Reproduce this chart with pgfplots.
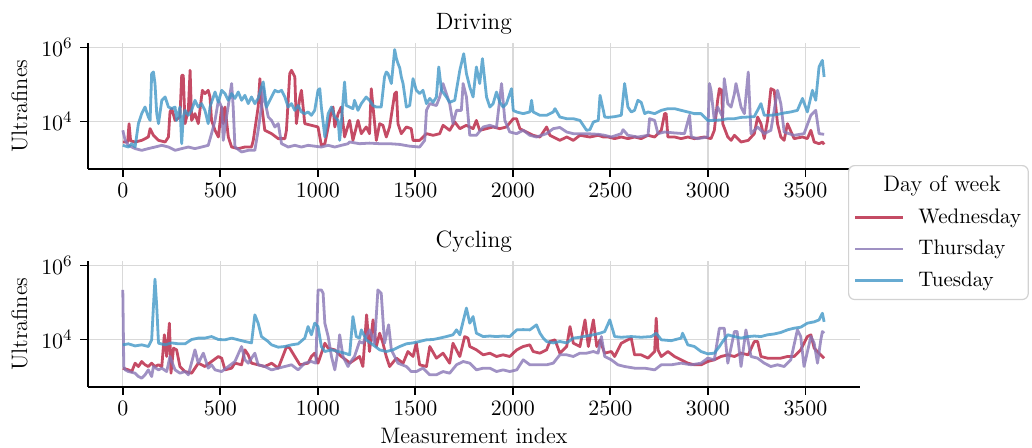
\documentclass[border=0pt]{standalone}
\usepackage{pgfplots}
\pgfplotsset{compat=1.18}

\definecolor{wed}{RGB}{182,30,62}
\definecolor{thu}{RGB}{136,118,181}
\definecolor{tue}{RGB}{65,151,199}

\pgfplotsset{
  every axis plot/.append style={line width=1.4pt, opacity=0.8, line join=round},
  every axis title/.style={at={(axis description cs:0.5,1)}, anchor=base, yshift=6.8pt, font=\fontsize{11.8}{14}\selectfont},
  every axis y label/.style={at={(axis description cs:-0.0883,0.5)}, rotate=90, anchor=center, font=\fontsize{11.2}{13}\selectfont},
  every axis x label/.style={at={(axis description cs:0.5,0)}, anchor=base, yshift=-28.5pt, font=\fontsize{11.2}{13}\selectfont},
}

\begin{document}
\begin{tikzpicture}
\useasboundingbox (0,0) rectangle (516pt,224pt);

% Driving
\begin{axis}[
  at={(43.85pt,139.5pt)}, anchor=south west,
  scale only axis, width=386.15pt, height=62.85pt,
  xmin=-180, xmax=3780, ymode=log, ymin=520, ymax=1.3e6,
  axis x line=bottom, axis y line=left,
  axis line style={-, line width=1pt},
  xtick={0,500,...,3500}, ytick={1e4,1e6},
  yminorticks=false,
  tick align=outside, major tick length=3.8pt,
  tick style={black, line width=0.9pt},
  grid=major, grid style={gray!30, line width=0.65pt},
  tick label style={font=\fontsize{11.3}{13}\selectfont},
  xticklabel style={/pgf/number format/1000 sep={}, inner sep=2pt, yshift=-1pt},
  yticklabel style={inner sep=2pt, xshift=-1.5pt},
  scaled x ticks=false,
  ylabel={Ultrafines},
  title={Driving},
]
\addplot[wed] coordinates {
(0,2790) (12,2790) (25,2800) (32,8700) (40,3000) (63,2790) (97,3090) (131,3810) (140,6400) (157,4230)
(183,3090) (217,2790) (234,3810) (242,18100) (251,22200) (268,10700) (293,13200) (302,177000) (310,177000)
(319,8740) (336,20000) (345,242000) (353,10700) (370,16300) (387,8740) (408,69700) (421,56700) (438,69700)
(447,46000) (455,10700) (473,5770) (490,3810) (507,24600) (515,8740) (524,24600) (541,3810) (558,2040)
(592,1850) (626,2040) (660,2040) (669,3090) (694,24600) (703,144000) (711,30400) (728,5770) (763,4690)
(797,3440) (831,3440) (839,5770) (856,197000) (865,242000) (882,160000) (890,8740) (908,46000) (916,69700)
(933,8740) (967,7880) (1001,7100) (1018,2270) (1036,2510) (1070,20000) (1078,24600) (1087,7100) (1104,16300)
(1120,24600) (1137,3810) (1163,10700) (1180,3090) (1206,10700) (1223,4690) (1248,7100) (1265,4690) (1274,77100)
(1283,24600) (1300,3090) (1317,8740) (1334,7880) (1351,3810) (1368,7100) (1394,56700) (1403,62700) (1411,8740)
(1428,4690) (1454,7100) (1479,6400) (1488,3090) (1522,3090) (1557,4690) (1591,4230) (1625,4690) (1642,7880)
(1676,5770) (1702,9700) (1728,6400) (1762,7880) (1796,6400) (1813,10700) (1830,5770) (1865,6400) (1899,7100)
(1933,6400) (1967,7100) (2002,11900) (2019,11900) (2036,6400) (2070,5200) (2104,4230) (2139,3810) (2173,7100)
(2190,4230) (2241,3090) (2276,3810) (2310,3090) (2344,4230) (2395,3810) (2438,4230) (2464,3810) (2488,3810)
(2522,3440) (2556,3810) (2590,3440) (2624,3810) (2658,3440) (2693,4230) (2727,3810) (2761,5770) (2778,16300)
(2786,16300) (2795,3810) (2829,3810) (2863,3440) (2897,3810) (2931,3440) (2982,3810) (3016,3440) (3033,5770)
(3050,37400) (3059,77100) (3071,69700) (3076,8740) (3102,3810) (3119,3090) (3136,4230) (3170,2790) (3207,3090)
(3238,4690) (3255,13200) (3272,8740) (3289,3440) (3306,10700) (3323,77100) (3340,69700) (3357,8740) (3374,3810)
(3391,3090) (3408,8740) (3442,3440) (3485,3810) (3510,3440) (3528,5770) (3545,2790) (3570,2510) (3587,2790) (3596,2400)
};
\addplot[thu] coordinates {
(0,5770) (12,3090) (29,2270) (63,1850) (97,1660) (131,1850) (165,2040) (200,2270) (234,2040) (268,1660)
(302,1850) (336,2040) (370,1850) (404,2040) (438,2270) (455,4690) (473,10700) (490,37400) (507,24600) (515,3090)
(532,13200) (558,106000) (566,24600) (575,2040) (609,1500) (643,1660) (677,1660) (694,5770) (711,24600) (720,85700)
(728,37400) (746,13200) (763,10700) (780,7100) (797,8740) (814,2510) (848,2040) (882,2270) (916,2040) (950,2270)
(984,2150) (1018,2040) (1053,2270) (1087,2040) (1121,2270) (1155,2510) (1163,2790) (1214,2510) (1265,2600) (1317,2510)
(1368,2510) (1420,2400) (1471,2150) (1522,2040) (1548,3090) (1557,20000) (1574,30400) (1608,27000) (1625,46000)
(1642,106000) (1659,56700) (1676,30400) (1693,8740) (1711,20000) (1736,20000) (1745,106000) (1762,46000) (1779,4230)
(1813,4230) (1848,7100) (1882,7880) (1916,6900) (1942,106000) (1959,10700) (1984,5200) (2019,4690) (2053,5770)
(2087,4230) (2121,3810) (2173,4690) (2207,6400) (2241,6900) (2276,5200) (2310,4690) (2378,4690) (2438,4500)
(2471,4230) (2505,3810) (2556,4690) (2565,6000) (2590,4230) (2641,3810) (2693,4230) (2701,11900) (2727,10700)
(2744,4690) (2778,5200) (2829,4900) (2880,4690) (2906,14700) (2915,3810) (2948,3440) (2999,3810) (3008,106000)
(3016,69700) (3033,10700) (3050,24600) (3076,13200) (3084,144000) (3102,30400) (3119,24600) (3136,56700) (3144,106000)
(3170,24600) (3187,16300) (3207,218000) (3221,4690) (3255,7100) (3289,4690) (3323,5770) (3357,69700) (3374,30400)
(3391,5200) (3442,4230) (3493,4690) (3528,14700) (3553,20000) (3570,4690) (3596,4500)
};
\addplot[tue] coordinates {
(0,2270) (29,2040) (46,2510) (63,2040) (80,8740) (97,16300) (114,24600) (131,13200) (140,10700) (148,197000)
(157,218000) (165,106000) (174,16300) (183,8740) (200,37400) (217,46000) (234,24600) (251,22200) (268,24600)
(276,10700) (293,24600) (302,2510) (310,13200) (319,20000) (336,14700) (353,20000) (370,37400) (387,24600)
(404,30400) (421,20000) (438,8740) (447,24600) (473,62700) (490,33000) (507,69700) (524,56700) (541,37400)
(558,56700) (575,42000) (592,62700) (609,37400) (626,51000) (643,30400) (660,46000) (677,30400) (694,42000)
(711,85700) (720,117000) (737,24600) (754,37400) (780,69700) (797,62700) (814,69700) (831,46000) (848,24600)
(865,30400) (882,20000) (899,27000) (916,18100) (933,16300) (950,18100) (967,14700) (984,20000) (1001,69700)
(1010,77100) (1018,24600) (1036,3810) (1053,16300) (1070,24600) (1087,13200) (1104,10700) (1112,3090) (1120,8740)
(1137,117000) (1146,27000) (1163,24600) (1180,22200) (1188,37400) (1206,20000) (1223,30400) (1248,46000) (1265,37400)
(1283,27000) (1300,24600) (1325,24600) (1342,160000) (1351,218000) (1360,197000) (1377,106000) (1394,880000)
(1403,500000) (1411,370000) (1420,280000) (1428,160000) (1437,106000) (1454,24600) (1471,27000) (1488,144000)
(1505,69700) (1522,56700) (1539,69700) (1557,30400) (1574,42000) (1591,33000) (1608,46000) (1620,298000) (1634,69700)
(1659,46000) (1676,33000) (1702,37400) (1728,242000) (1748,680000) (1762,197000) (1779,85700) (1796,46000)
(1813,298000) (1830,106000) (1844,500000) (1865,46000) (1882,24600) (1899,30400) (1916,62700) (1933,33000)
(1950,24600) (1967,30400) (1993,77100) (2002,20000) (2019,18100) (2053,16300) (2087,18100) (2096,37400) (2104,18100)
(2139,14700) (2173,14700) (2207,18100) (2216,22200) (2241,13200) (2276,11900) (2310,11900) (2344,10700) (2378,5770)
(2395,6000) (2413,9700) (2438,10700) (2447,51000) (2464,20000) (2471,13200) (2488,12900) (2522,13500) (2556,14700)
(2573,106000) (2590,24600) (2607,18100) (2624,20000) (2641,37400) (2658,33000) (2676,16300) (2693,18100) (2727,16300)
(2761,20000) (2795,22200) (2829,22200) (2863,20000) (2897,18100) (2931,16300) (2965,16300) (2999,10700) (3033,10700)
(3067,11000) (3102,11900) (3136,11900) (3170,12900) (3207,13200) (3238,13500) (3272,30400) (3289,14700) (3323,14700)
(3357,15500) (3391,17000) (3425,18100) (3459,20000) (3485,42000) (3510,18100) (3536,69700) (3553,37400) (3570,298000)
(3587,450000) (3596,160000)
};
\end{axis}

% Cycling
\begin{axis}[
  at={(43.85pt,30.5pt)}, anchor=south west,
  scale only axis, width=386.15pt, height=62.85pt,
  xmin=-180, xmax=3780, ymode=log, ymin=520, ymax=1.3e6,
  axis x line=bottom, axis y line=left,
  axis line style={-, line width=1pt},
  xtick={0,500,...,3500}, ytick={1e4,1e6},
  yminorticks=false,
  tick align=outside, major tick length=3.8pt,
  tick style={black, line width=0.9pt},
  grid=major, grid style={gray!30, line width=0.65pt},
  tick label style={font=\fontsize{11.3}{13}\selectfont},
  xticklabel style={/pgf/number format/1000 sep={}, inner sep=2pt, yshift=-1pt},
  yticklabel style={inner sep=2pt, xshift=-1.5pt},
  scaled x ticks=false,
  ylabel={Ultrafines},
  title={Cycling},
  xlabel={Measurement index},
  legend style={at={(axis description cs:0.9845,1.766)}, anchor=north west,
    draw=gray!35, rounded corners=3pt, fill=white, line width=0.6pt,
    font=\fontsize{10.5}{12}\selectfont, inner xsep=2.5pt, inner ysep=3.1pt,
    row sep=3pt, nodes={inner xsep=1pt, inner ysep=2pt},
    /tikz/every odd column/.append style={column sep=6pt}},
  legend cell align=left,
  legend image code/.code={\draw[#1] (0pt,0pt) -- (24pt,0pt);},
]
\addlegendimage{empty legend}
\addplot[wed] coordinates {
(0,1680) (29,1510) (46,1360) (63,2290) (80,1860) (97,2540) (114,2070) (131,1860) (148,2290) (165,1860) (183,2070)
(200,1860) (213,13400) (225,3470) (239,27600) (247,1230) (260,5830) (276,5250) (293,1860) (319,1360) (353,1230)
(387,2290) (421,1860) (455,2540) (490,3470) (507,3130) (524,1510) (558,1680) (575,2290) (609,2070) (626,5250)
(643,3850) (660,2290) (694,2070) (728,1860) (763,2290) (797,1680) (840,6460) (856,5830) (882,3470) (908,2070)
(950,2290) (967,3470) (984,4270) (1001,2290) (1036,7950) (1053,5830) (1087,5250) (1121,3470) (1155,2540)
(1163,2290) (1188,2820) (1214,3470) (1231,1860) (1250,46400) (1265,4730) (1283,33900) (1300,6460) (1317,14800)
(1334,7950) (1351,3470) (1368,1860) (1403,3130) (1437,2290) (1462,4730) (1488,3470) (1505,7950) (1522,2070)
(1557,1860) (1574,6460) (1608,3130) (1642,4270) (1676,2290) (1693,7950) (1728,3470) (1753,12000) (1770,10900)
(1779,6460) (1813,5250) (1848,3850) (1882,4270) (1916,3470) (1950,3850) (1984,3470) (2020,5250) (2053,6460)
(2087,7170) (2104,4730) (2139,4270) (2173,5250) (2190,8830) (2216,9800) (2241,4270) (2276,6460) (2293,22400)
(2310,7950) (2344,6460) (2370,33900) (2387,6460) (2413,33900) (2430,6460) (2447,9800) (2464,5250) (2471,4270)
(2505,4730) (2522,3470) (2556,7950) (2590,9800) (2607,10900) (2624,3850) (2658,3850) (2693,3130) (2727,4730)
(2735,37700) (2744,5250) (2761,3470) (2795,4730) (2829,3470) (2863,2820) (2897,2290) (2931,2070) (2965,2070)
(2999,2540) (3033,2820) (3067,3470) (3102,3850) (3136,3470) (3170,4270) (3207,3850) (3238,8830) (3255,8830)
(3272,3470) (3306,3130) (3340,3130) (3374,3130) (3408,3470) (3442,3470) (3476,5250) (3510,12000) (3528,13400)
(3545,5830) (3570,4270) (3596,3130)
};
\addplot[thu] coordinates {
(0,219000) (5,1860) (12,1510) (29,1360) (63,1230) (80,1000) (97,900) (114,1110) (131,1510) (148,1000) (157,1860)
(183,1510) (200,1680) (225,1360) (242,3470) (251,2540) (268,1510) (293,1230) (319,1360) (336,1110) (370,5250)
(387,2290) (413,4270) (438,1680) (455,2070) (473,1510) (507,1360) (541,1860) (575,2540) (609,6460) (626,2820)
(643,2290) (677,4270) (694,2070) (728,1860) (763,1510) (797,1680) (831,1860) (865,2070) (899,1510) (933,2290)
(967,2540) (990,2290) (1001,219000) (1018,219000) (1027,178000) (1036,27600) (1053,12000) (1070,3470) (1087,1510)
(1104,5250) (1112,13400) (1129,3470) (1155,1860) (1163,2290) (1188,3470) (1214,8830) (1231,7950) (1265,18200)
(1291,7950) (1308,219000) (1325,178000) (1342,7950) (1363,24900) (1377,5250) (1411,2290) (1454,1860) (1479,1360)
(1505,1360) (1539,1680) (1574,1110) (1608,1110) (1642,1360) (1676,1230) (1711,2070) (1745,2540) (1779,2290)
(1813,1510) (1848,1680) (1882,1680) (1916,1360) (1950,1510) (1984,1360) (2020,1510) (2053,2820) (2087,2070)
(2121,2070) (2173,2070) (2207,2290) (2241,3850) (2276,3850) (2310,3470) (2344,4270) (2378,4270) (2413,4730)
(2437,4270) (2454,12000) (2471,3470) (2505,2820) (2539,2070) (2573,1860) (2624,1680) (2676,1680) (2727,1510)
(2761,2070) (2812,2070) (2863,2290) (2914,2070) (2965,2290) (2999,3130) (3033,2820) (3059,20200) (3084,20200)
(3102,2290) (3136,16400) (3150,16400) (3170,1860) (3195,18200) (3221,3470) (3255,3130) (3289,2290) (3323,1860)
(3357,2070) (3391,1860) (3425,2820) (3459,18200) (3476,12000) (3493,1860) (3528,12000) (3545,7950) (3562,2290)
(3579,9800) (3587,16400) (3596,14800)
};
\addplot[tue] coordinates {
(0,7170) (29,7640) (63,6700) (97,7170) (131,6460) (148,9800) (157,77700) (165,427000) (174,77700) (183,7950)
(217,7170) (251,8100) (285,7640) (319,7640) (353,10000) (387,10900) (421,10900) (455,12000) (490,10000)
(524,9800) (558,10900) (592,9800) (626,8830) (660,8100) (677,46400) (694,27600) (711,12000) (745,8830)
(763,7170) (797,6200) (831,6460) (865,7170) (899,7640) (933,10900) (950,22400) (967,13400) (984,27600)
(1001,22400) (1018,6460) (1036,4730) (1070,5250) (1104,4730) (1138,4270) (1163,3850) (1180,41700) (1197,12000)
(1214,10900) (1223,18200) (1248,9800) (1283,7170) (1317,5250) (1351,4730) (1385,5250) (1420,6460) (1454,7640)
(1488,8100) (1522,8830) (1557,9800) (1591,10000) (1625,10900) (1659,12000) (1693,13400) (1711,18200) (1728,13400)
(1762,70700) (1779,27600) (1796,41700) (1813,14800) (1848,12000) (1882,12400) (1916,12000) (1950,12400)
(1984,12000) (2020,18200) (2053,18500) (2087,18200) (2121,24900) (2139,14800) (2156,10900) (2173,8830)
(2207,8100) (2241,8830) (2276,8100) (2310,10900) (2344,11500) (2378,12400) (2413,13400) (2447,14800) (2471,16400)
(2497,33900) (2522,12000) (2556,11500) (2607,12000) (2658,11500) (2710,12000) (2735,14800) (2761,9800)
(2812,9300) (2863,10900) (2870,14800) (2897,7170) (2931,6460) (2965,4730) (2999,4100) (3033,4270) (3059,6460)
(3076,8830) (3102,13400) (3136,12000) (3170,10900) (3207,12000) (3238,12400) (3272,12000) (3306,13400)
(3340,14100) (3374,15500) (3408,18200) (3442,20200) (3476,21500) (3510,27600) (3545,30000) (3570,33900)
(3587,51300) (3596,30000)
};
\legend{{\fontsize{11.2}{13}\selectfont\hspace*{-17.5pt}Day of week}, Wednesday, Thursday, Tuesday}
\end{axis}
\end{tikzpicture}
\end{document}
